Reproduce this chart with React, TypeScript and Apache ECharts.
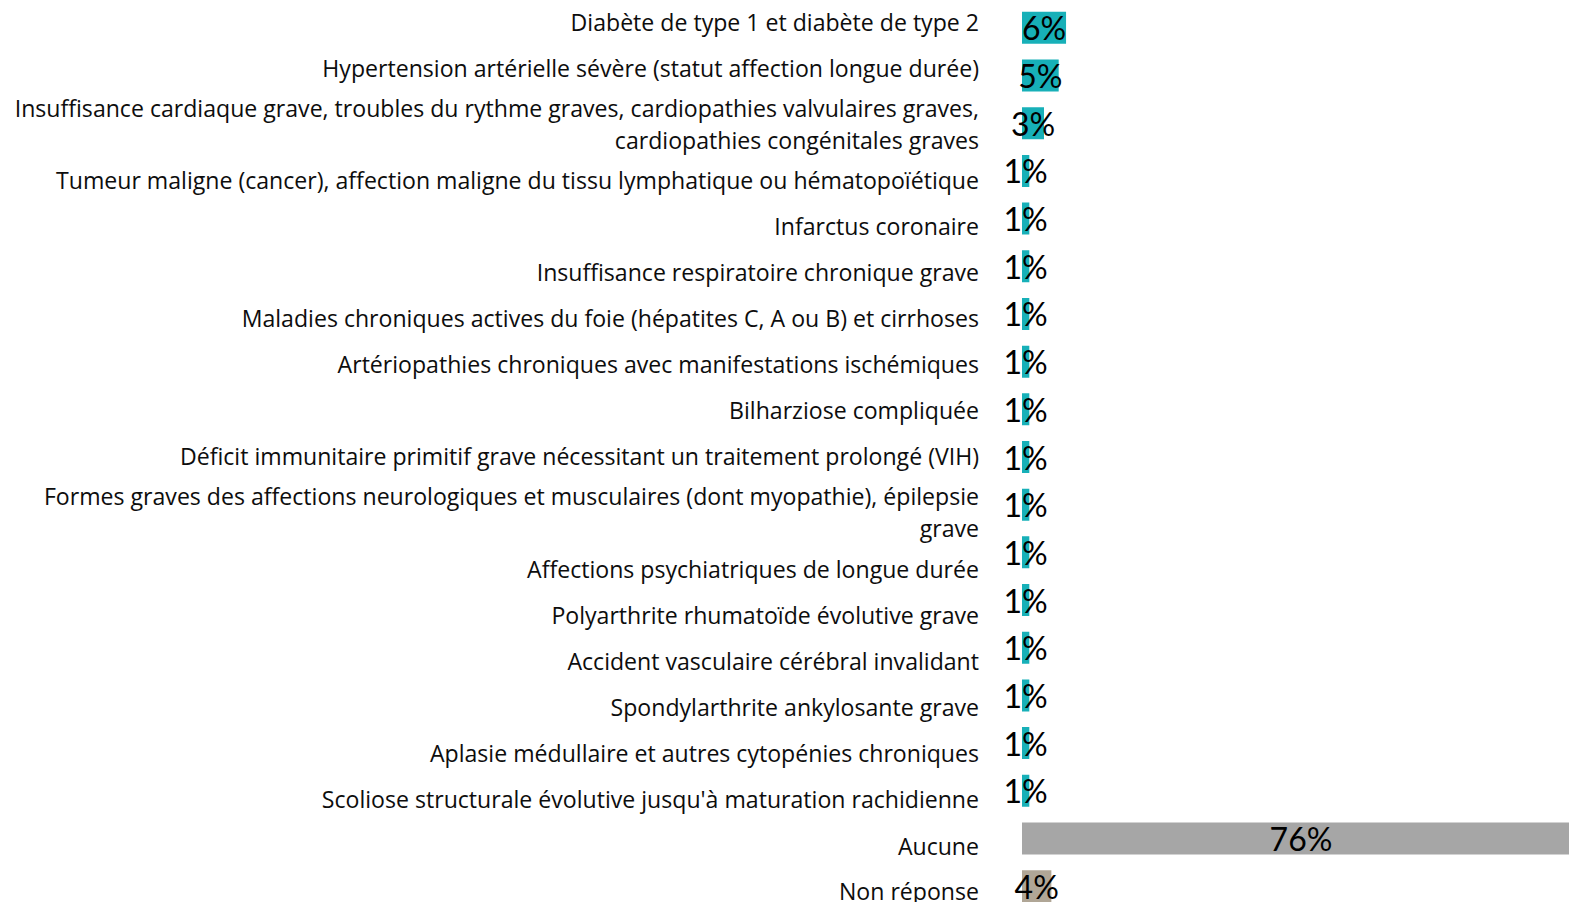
import React, { useEffect, useRef } from "react";
import * as echarts from "echarts";

const categories: string[] = [
  "Diabète de type 1 et diabète de type 2",
  "Hypertension artérielle sévère (statut affection longue durée)",
  "Insuffisance cardiaque grave, troubles du rythme graves, cardiopathies valvulaires graves,\ncardiopathies congénitales graves",
  "Tumeur maligne (cancer), affection maligne du tissu lymphatique ou hématopoïétique",
  "Infarctus coronaire",
  "Insuffisance respiratoire chronique grave",
  "Maladies chroniques actives du foie (hépatites C, A ou B) et cirrhoses",
  "Artériopathies chroniques avec manifestations ischémiques",
  "Bilharziose compliquée",
  "Déficit immunitaire primitif grave nécessitant un traitement prolongé (VIH)",
  "Formes graves des affections neurologiques et musculaires (dont myopathie), épilepsie\ngrave",
  "Affections psychiatriques de longue durée",
  "Polyarthrite rhumatoïde évolutive grave",
  "Accident vasculaire cérébral invalidant",
  "Spondylarthrite ankylosante grave",
  "Aplasie médullaire et autres cytopénies chroniques",
  "Scoliose structurale évolutive jusqu'à maturation rachidienne",
  "Aucune",
  "Non réponse",
];

const values: number[] = [6, 5, 3, 1, 1, 1, 1, 1, 1, 1, 1, 1, 1, 1, 1, 1, 1, 76, 4];

// vertical nudge (px) of each category label, as laid out in the original
const labelNudge: number[] = [-6, -8, 1, 9, 7, 6, 4, 2, 1, -1, 7, 17, 15, 13, 12, 10, 8, 8, 5];

const TEAL = "#17B0B8";
const GREY = "#A6A6A6";
const TAN = "#B0A696";

const colorFor = (name: string) =>
  name === "Aucune" ? GREY : name === "Non réponse" ? TAN : TEAL;

export default function App() {
  const ref = useRef<HTMLDivElement>(null);
  useEffect(() => {
    if (!ref.current) return;
    const chart = echarts.init(ref.current, null, { renderer: "svg" });
    const catFont = "Open Sans";
    const valFont = "Lato";
    const rich: Record<string, any> = {};
    labelNudge.forEach((d, i) => {
      rich["r" + i] = {
        fontFamily: catFont,
        fontSize: 23.1,
        color: "#0D0D0D",
        lineHeight: 32,
        padding: d >= 0 ? [2 * d, 0, 0, 0] : [0, 0, -2 * d, 0],
      };
    });
    chart.setOption({
      animation: false,
      grid: { left: 1022, right: 0, top: 4, bottom: 0, containLabel: false, outerBoundsMode: "none" },
      xAxis: {
        type: "value",
        min: 0,
        max: 76,
        show: false,
      },
      yAxis: {
        type: "category",
        inverse: true,
        data: categories,
        axisLine: { show: false },
        axisTick: { show: false },
        splitLine: { show: false },
        axisLabel: {
          margin: 43,
          align: "right",
          interval: 0,
          formatter: (v: string, i: number) =>
            v
              .split("\n")
              .map((l) => `{r${i}|${l}}`)
              .join("\n"),
          rich,
        },
      },
      series: [
        {
          type: "bar",
          barWidth: 32,
          data: values.map((v, i) => ({ value: v, itemStyle: { color: colorFor(categories[i]) } })),
          label: {
            show: true,
            position: "inside",
            formatter: "{c}%",
            color: "#000000",
            fontFamily: valFont,
            fontSize: 32,
          },
        },
      ],
    });
    return () => chart.dispose();
  }, []);
  return (
    <div style={{ position: "absolute", left: 0, top: 0, width: 1569, height: 902, overflow: "hidden", background: "#fff" }}>
      <div ref={ref} style={{ width: 1580, height: 910 }} />
    </div>
  );
}
